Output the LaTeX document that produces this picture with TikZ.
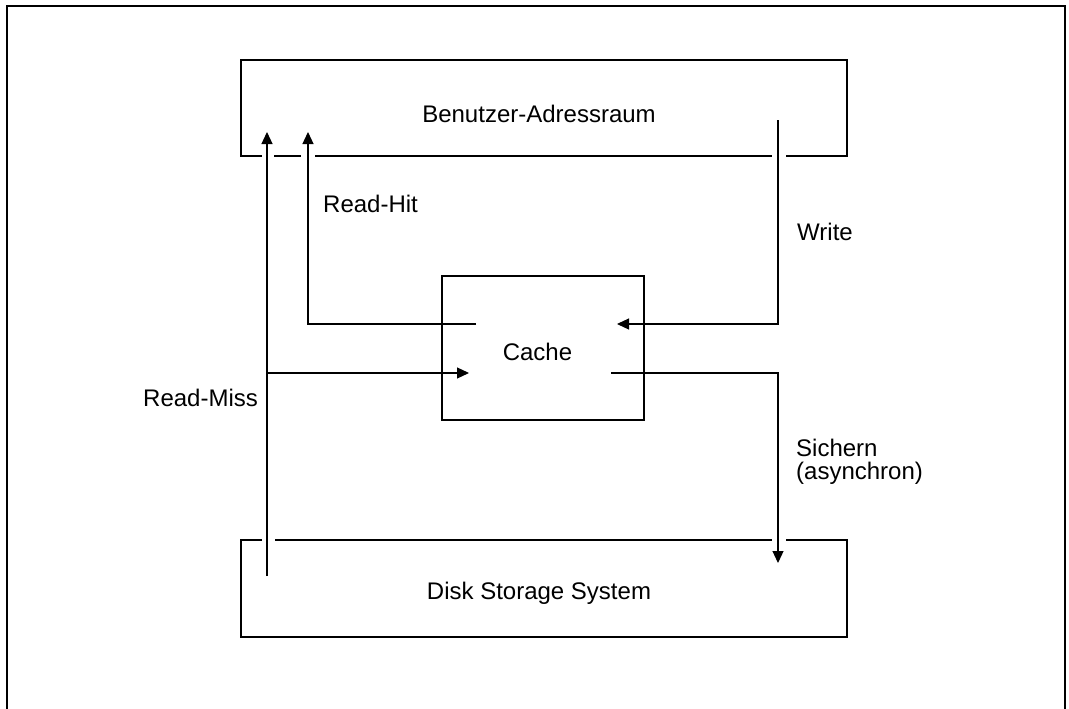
\documentclass[tikz,border=0pt]{standalone}
\usepackage{fontspec}
\setmainfont{Liberation Sans}
\usetikzlibrary{arrows.meta}
\begin{document}
\begin{tikzpicture}[x=1pt,y=-1pt,
  line/.style={line width=1.2pt},
  arr/.style={line width=1.2pt,-{Triangle[width=11pt,length=12pt]}},
  lbl/.style={font=\fontsize{24}{27}\selectfont,inner sep=0pt},
  lbll/.style={lbl,anchor=base west,align=left},
  lblc/.style={lbl,anchor=base}]
\useasboundingbox (0,0) rectangle (1069,709);
% outer frame
\draw[line] (7,712) -- (7,6) -- (1065,6) -- (1065,712);
% top box
\draw[line] (262,156) -- (241,156) -- (241,60) -- (847,60) -- (847,156) -- (786,156);
\draw[line] (274,156) -- (301,156);
\draw[line] (315,156) -- (772,156);
% bottom box
\draw[line] (262,540) -- (241,540) -- (241,637) -- (847,637) -- (847,540) -- (786,540);
\draw[line] (275,540) -- (772,540);
% cache box
\node[draw,line width=1.2pt,minimum width=202pt,minimum height=144pt,inner sep=0pt] (cache) at (543,348) {};
\node[lblc] (cachet) at (537.5,360) {Cache};
% labels
\node[lblc] (user) at (539,122) {Benutzer-Adressraum};
\node[lblc] (disk) at (539,599) {Disk Storage System};
\node[lbll] (rh) at (323,212) {Read-Hit};
\node[lbll] (rm) at (143,406) {Read-Miss};
\node[lbll] (wr) at (797,240) {Write};
\node[lbll] (si1) at (796,456) {Sichern};
\node[lbll] (si2) at (796,479) {(asynchron)};
% coordinates
\coordinate (rmS) at (267,576);
\coordinate (rmT) at (267,132);
\coordinate (rmJ) at (267,373);
\coordinate (rmE) at (469,373);
\coordinate (rhS) at (476,324);
\coordinate (rhC) at (308,324);
\coordinate (rhT) at (308,132);
\coordinate (wS) at (778,120);
\coordinate (wC) at (778,324);
\coordinate (wT) at (617,324);
\coordinate (sS) at (611,373);
\coordinate (sC) at (778,373);
\coordinate (sT) at (778,563);
% connectors
\draw[arr] (rmS) -- (rmT);
\draw[arr] (rmJ) -- (rmE);
\draw[arr] (rhS) -- (rhC) -- (rhT);
\draw[arr] (wS) -- (wC) -- (wT);
\draw[arr] (sS) -- (sC) -- (sT);
\end{tikzpicture}
\end{document}
